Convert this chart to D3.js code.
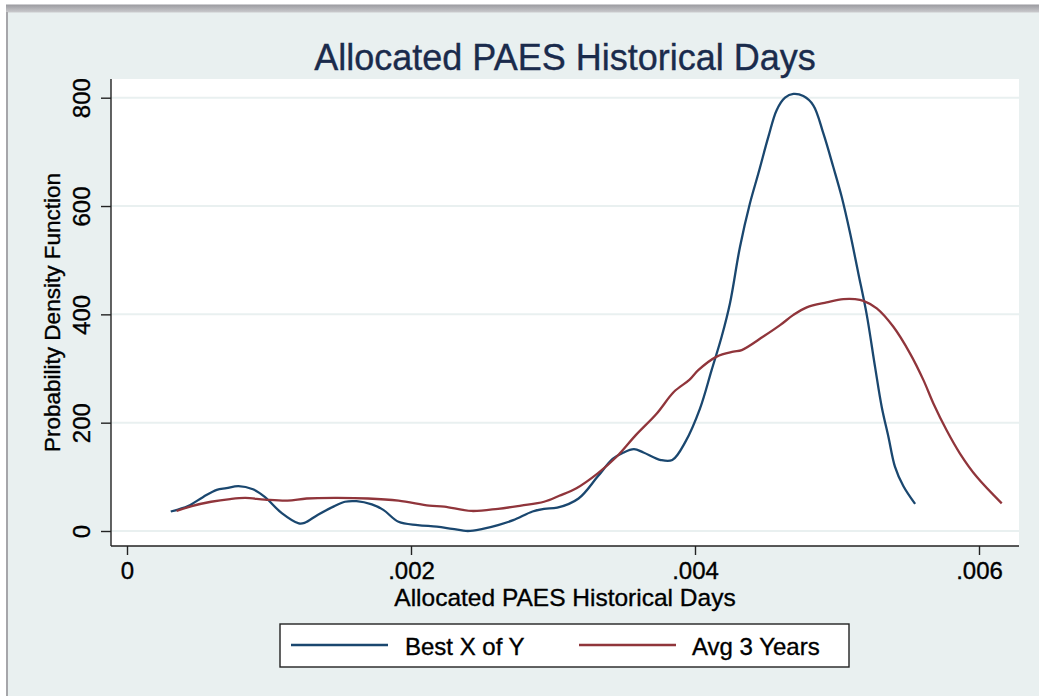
<!DOCTYPE html>
<html>
<head>
<meta charset="utf-8">
<script src="https://cdn.jsdelivr.net/npm/d3@7"></script>
<style>
  html, body { margin: 0; padding: 0; background: #fff; }
  svg { display: block; font-family: "Liberation Sans", Arial, Helvetica, sans-serif; }
</style>
</head>
<body>
<svg id="chart" width="1039" height="696"></svg>
<script>
// density estimates
const bestX = [0.000308, 0.00043, 0.000537, 0.000632, 0.0007, 0.000785, 0.000887, 0.00097, 0.00109, 0.00121,
  0.00125, 0.001345, 0.001454, 0.001535, 0.001616, 0.001724, 0.001805, 0.001912, 0.002047, 0.002182,
  0.00229, 0.0024, 0.002505, 0.002613, 0.00272, 0.002856, 0.002937, 0.00303, 0.00318, 0.003313,
  0.00342, 0.00349, 0.00357, 0.003637, 0.00376, 0.00384, 0.003933, 0.004035, 0.004117, 0.004188,
  0.004246, 0.004317, 0.004387, 0.004446, 0.004517, 0.004575, 0.004634, 0.004693, 0.004763, 0.004833,
  0.004904, 0.004974, 0.005033, 0.005092, 0.00515, 0.005209, 0.005268, 0.005315, 0.005362, 0.005408,
  0.005467, 0.00555];
const bestY = [36, 46, 63, 76, 79, 83, 77, 63, 33, 14,
  15, 30, 45, 54, 55, 49, 39, 17, 11, 8,
  4, 0, 4, 11, 20, 36, 41, 43, 60, 100,
  133, 144, 151, 145, 131, 131, 165, 226, 297, 359,
  420, 525, 605, 660, 728, 777, 800, 807, 803, 786,
  734, 672, 617, 550, 476, 400, 303, 229, 174, 119,
  83, 50];

const avgX = [0.000349, 0.000456, 0.000592, 0.000726, 0.000834, 0.00097, 0.00113, 0.001265, 0.001481, 0.001697,
  0.001912, 0.002128, 0.002235, 0.002424, 0.002613, 0.002775, 0.002937, 0.003044, 0.003165, 0.003313,
  0.003448, 0.003583, 0.003731, 0.003852, 0.00396, 0.004023, 0.004153, 0.00427, 0.004329, 0.004481,
  0.004599, 0.004693, 0.004787, 0.004927, 0.005045, 0.005127, 0.005186, 0.00528, 0.005397, 0.005514,
  0.005608, 0.005678, 0.005772, 0.005866, 0.005984, 0.00616];
const avgY = [37, 46, 54, 59, 61, 58, 56, 60, 61, 60,
  56, 47, 45, 37, 41, 47, 54, 65, 79, 106,
  137, 177, 217, 257, 279, 297, 322, 331, 334, 359,
  380, 399, 413, 422, 428, 428, 425, 411, 377, 328,
  279, 236, 186, 143, 100, 51];

const xTicks = [0, 0.002, 0.004, 0.006];
const xTickLabels = ["0", ".002", ".004", ".006"];
const yTicks = [0, 200, 400, 600, 800];

const series = [
  { name: "Best X of Y", color: "#1a476f", xs: bestX, ys: bestY },
  { name: "Avg 3 Years", color: "#90353b", xs: avgX, ys: avgY },
];

const svg = d3.select("#chart");
const bg = "#e9f0f0";

// page background + the clipped frame at the top/left
svg.append("rect").attr("x", 8).attr("y", 12).attr("width", 1031).attr("height", 684).attr("fill", bg);
const grad = svg.append("defs").append("linearGradient")
  .attr("id", "band").attr("x1", 0).attr("y1", 0).attr("x2", 0).attr("y2", 1);
grad.append("stop").attr("offset", "0%").attr("stop-color", "#9a9a9f");
grad.append("stop").attr("offset", "100%").attr("stop-color", "#cbcbce");
svg.append("rect").attr("x", 6).attr("y", 4.5).attr("width", 1033).attr("height", 8).attr("fill", "url(#band)");
svg.append("rect").attr("x", 6).attr("y", 12).attr("width", 2).attr("height", 684).attr("fill", "#a6a6aa");

const plot = { left: 111, right: 1019, top: 79, bottom: 546 };

const x = d3.scaleLinear().domain([0, 0.006]).range([127, 979]);
const y = d3.scaleLinear().domain([0, 800]).range([531, 97.7]);

svg.append("rect")
  .attr("x", plot.left).attr("y", plot.top)
  .attr("width", plot.right - plot.left).attr("height", plot.bottom - plot.top)
  .attr("fill", "#fff");

// gridlines
svg.append("g")
  .selectAll("line")
  .data(yTicks)
  .join("line")
  .attr("x1", plot.left).attr("x2", plot.right)
  .attr("y1", (d) => y(d)).attr("y2", (d) => y(d))
  .attr("stroke", bg)
  .attr("stroke-width", 2);

// curves
const line = d3.line()
  .x((d) => x(d[0]))
  .y((d) => y(d[1]))
  .curve(d3.curveCatmullRom.alpha(0.5));

svg.append("g")
  .selectAll("path")
  .data(series)
  .join("path")
  .attr("d", (s) => line(s.xs.map((v, i) => [v, s.ys[i]])))
  .attr("fill", "none")
  .attr("stroke", (s) => s.color)
  .attr("stroke-width", 2.3)
  .attr("stroke-linejoin", "round");

// thicker glyphs, closer to the heavier rendering in the picture
const heavy = (sel, color) => sel.attr("stroke", color).attr("stroke-width", 0.35);

// axes
const xAxis = svg.append("g")
  .attr("transform", `translate(0,${plot.bottom})`)
  .call(d3.axisBottom(x).tickValues(xTicks).tickSize(9).tickFormat((d, i) => xTickLabels[i]));
xAxis.select(".domain").attr("d", `M${plot.left},0H${plot.right}`).attr("stroke", "#222").attr("stroke-width", 1.4);
xAxis.selectAll(".tick line").attr("stroke", "#222").attr("stroke-width", 1.4);
xAxis.selectAll(".tick text")
  .attr("y", 33).attr("dy", 0)
  .attr("font-size", 24).attr("fill", "#000")
  .attr("font-family", "Liberation Sans, Arial, sans-serif")
  .call(heavy, "#000");

const yAxis = svg.append("g")
  .attr("transform", `translate(${plot.left},0)`)
  .call(d3.axisLeft(y).tickValues(yTicks).tickSize(10));
yAxis.select(".domain").attr("d", `M0,${plot.top}V${plot.bottom}`).attr("stroke", "#222").attr("stroke-width", 1.4);
yAxis.selectAll(".tick line").attr("stroke", "#222").attr("stroke-width", 1.4);
yAxis.selectAll(".tick text")
  .attr("x", null).attr("dy", null)
  .attr("transform", "translate(-21,0) rotate(-90)")
  .attr("text-anchor", "middle")
  .attr("font-size", 24).attr("fill", "#000")
  .attr("font-family", "Liberation Sans, Arial, sans-serif")
  .call(heavy, "#000");

// titles
svg.append("text")
  .attr("x", 565).attr("y", 70)
  .attr("text-anchor", "middle")
  .attr("font-size", 36)
  .attr("fill", "#1a2b4c")
  .call(heavy, "#1a2b4c")
  .text("Allocated PAES Historical Days");

svg.append("text")
  .attr("x", 565).attr("y", 606)
  .attr("text-anchor", "middle")
  .attr("font-size", 24.5)
  .attr("fill", "#000")
  .call(heavy, "#000")
  .text("Allocated PAES Historical Days");

svg.append("text")
  .attr("transform", `translate(60,${(plot.top + plot.bottom) / 2}) rotate(-90)`)
  .attr("text-anchor", "middle")
  .attr("font-size", 22.5)
  .attr("fill", "#000")
  .call(heavy, "#000")
  .text("Probability Density Function");

// legend
const legend = svg.append("g");
legend.append("rect")
  .attr("x", 280).attr("y", 624).attr("width", 569).attr("height", 43)
  .attr("fill", "#fff").attr("stroke", "#222").attr("stroke-width", 1.4);

const legendItems = [
  { x1: 291, x2: 388, tx: 405 },
  { x1: 579, x2: 676, tx: 692 },
];
legend.selectAll("line")
  .data(series)
  .join("line")
  .attr("x1", (d, i) => legendItems[i].x1).attr("x2", (d, i) => legendItems[i].x2)
  .attr("y1", 645).attr("y2", 645)
  .attr("stroke", (d) => d.color)
  .attr("stroke-width", 2.3);
legend.selectAll("text")
  .data(series)
  .join("text")
  .attr("x", (d, i) => legendItems[i].tx).attr("y", 655)
  .attr("font-size", 24)
  .attr("fill", "#000")
  .call(heavy, "#000")
  .text((d) => d.name);
</script>
</body>
</html>
